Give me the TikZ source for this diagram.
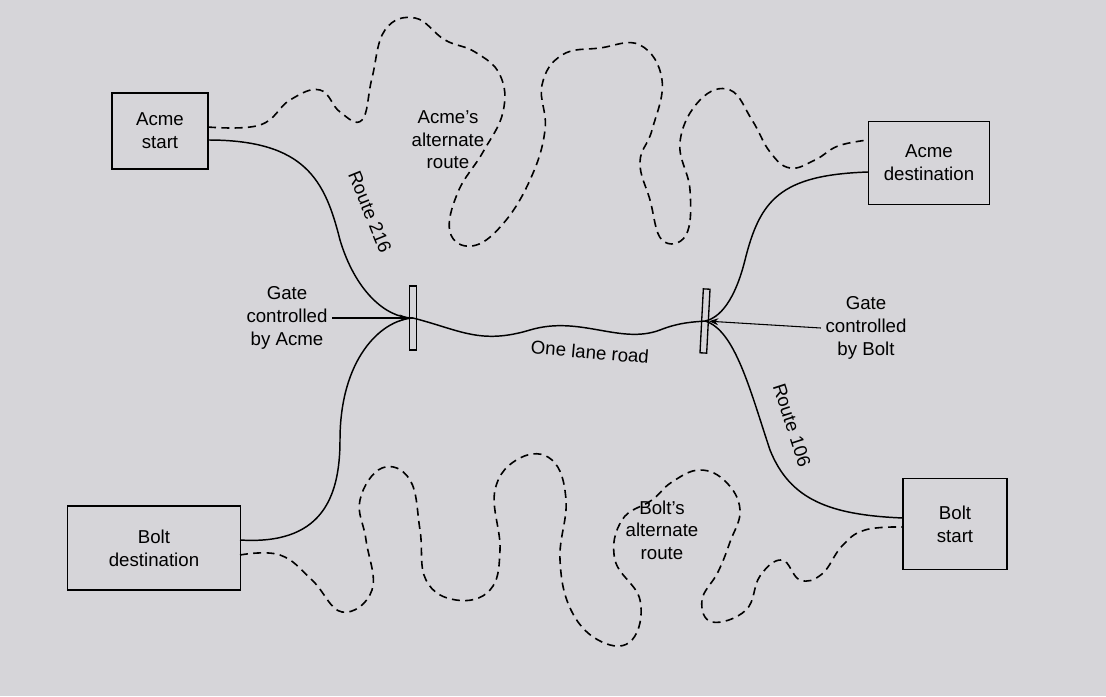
\documentclass[tikz,border=0pt]{standalone}
\usepackage{fontspec}
\setmainfont{Liberation Sans}
\usetikzlibrary{arrows.meta}
\definecolor{paper}{RGB}{214,213,217}
\begin{document}
\begin{tikzpicture}[x=0.75pt,y=-0.75pt,
 box/.style={draw,line width=1pt,fill=paper,minimum width=#1,align=center,font=\fontsize{14}{17}\selectfont},
 lbl/.style={align=center,font=\fontsize{14}{17}\selectfont},
 road/.style={line width=1.1pt},
 alt/.style={line width=1.2pt,dash pattern=on 6pt off 4pt},
 gate/.style={draw,line width=1pt,fill=paper,minimum width=5pt,minimum height=48pt,inner sep=0pt}]
\fill[paper] (0,0) rectangle (1106,696);
\useasboundingbox (0,0) rectangle (1106,696);
\node[box=72pt,minimum height=57pt] (as) at (160,131) {Acme\\start};
\node[box=91pt,minimum height=62pt] (ad) at (929,163) {Acme\\destination};
\node[box=130pt,minimum height=63pt] (bd) at (154,548) {Bolt\\destination};
\node[box=78pt,minimum height=68pt] (bs) at (955,524) {Bolt\\start};
\node[gate] (g1) at (413,318) {};
\node[gate,rotate=-3] (g2) at (705,321) {};
\coordinate (asr) at (208,140);
\coordinate (ade) at (868,172);
\coordinate (bde) at (240,540);
\coordinate (bse) at (903,518);
\draw[road] (asr) .. controls (305,140) and (325,180) .. (340,240) .. controls (355,290) and (385,318) .. (g1.center);
\draw[road] (ade) .. controls (780,175) and (760,200) .. (745,260) .. controls (735,300) and (720,318) .. (g2.center);
\draw[road] (g1.center) .. controls (460,330) and (480,345) .. (530,330) .. controls (580,315) and (620,345) .. (660,330) .. controls (680,322) and (695,322) .. (g2.center);
\draw[road] (bde) .. controls (320,545) and (340,500) .. (340,440) .. controls (340,360) and (380,320) .. (g1.center);
\draw[road] (bse) .. controls (830,515) and (790,500) .. (770,450) .. controls (750,390) and (735,330) .. (g2.center);
\node[lbl,rotate=-68] (r216) at (370,212) {Route 216};
\node[lbl,rotate=-72] (r106) at (792,425) {Route 106};
\node[lbl,rotate=-5] (olr) at (590,352) {One lane road};
\draw[alt] plot[smooth,tension=0.7] coordinates {(208,127) (260,125) (290,100) (320,90) (340,112) (362,120) (372,78) (385,30) (415,18) (445,40) (475,52) (500,75) (503,112) (483,152) (458,192) (450,232) (472,246) (502,225) (530,180) (545,130) (542,85) (562,55) (600,48) (640,45) (662,80) (652,130) (640,162) (650,200) (662,240) (686,235) (690,190) (680,142) (700,100) (730,90) (752,120) (770,152) (790,168) (815,160) (838,146) (868,140)};
\draw[alt] plot[smooth,tension=0.7] coordinates {(240,555) (280,555) (312,580) (342,612) (372,590) (366,540) (360,500) (382,468) (410,480) (420,530) (426,580) (456,600) (490,590) (500,550) (495,490) (520,458) (552,460) (566,500) (560,560) (572,612) (602,642) (632,640) (640,600) (615,560) (622,520) (652,500) (672,482) (700,470) (726,482) (740,510) (730,542) (718,572) (702,600) (712,622) (746,610) (760,576) (782,560) (800,580) (822,574) (842,546) (865,530) (903,527)};
\node[lbl] (aalt) at (448,140) {Acme's\\alternate\\route};
\node[lbl] (balt) at (662,530) {Bolt's\\alternate\\route};
\node[lbl] (gca) at (287,318) {Gate\\controlled\\by Acme};
\node[lbl] (gcb) at (866,328) {Gate\\controlled\\by Bolt};
\draw[-{Stealth[length=7pt]},line width=0.8pt] (gca.east) -- (g1.west);
\draw[-{Stealth[length=7pt]},line width=0.8pt] (gcb.west) -- (g2.east);
\end{tikzpicture}
\end{document}
